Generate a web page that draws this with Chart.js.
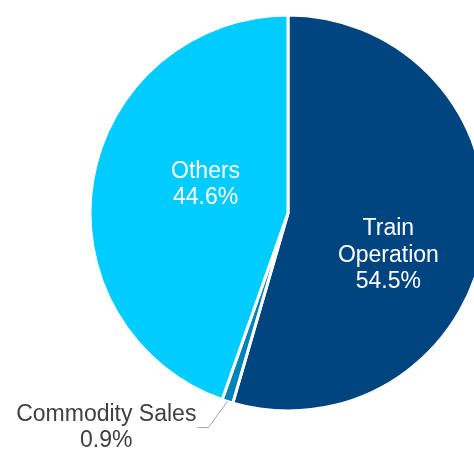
<!DOCTYPE html>
<html>
<head>
<meta charset="utf-8">
<script src="https://cdn.jsdelivr.net/npm/chart.js@4/dist/chart.umd.min.js"></script>
<style>
  html, body { margin: 0; padding: 0; background: #ffffff; overflow: hidden; width: 474px; height: 450px; }
  #wrap { position: absolute; left: 0; top: 0; width: 576px; height: 450px; }
</style>
</head>
<body>
<div id="wrap"><canvas id="c" width="576" height="450"></canvas></div>
<script>
// ---- data ----
const categories = ["Train Operation", "Commodity Sales", "Others"];
const shares = [54.5, 0.9, 44.6];
const labelLines = [["Train", "Operation"], ["Commodity Sales"], ["Others"]];
const sliceColors = ["#00457f", "#0082ba", "#00ccff"];

// label placement (polar, relative to pie centre): radius fraction, screen angle in degrees
const labelPolar = [
  { r: 0.55, a: 22.8, color: "#ffffff", inside: true },
  { r: 0, a: 0, color: "#404040", inside: false },
  { r: 0.44, a: 198.9, color: "#ffffff", inside: true }
];

const FONT = '23px "Liberation Sans", Arial, sans-serif';
const LINE_H = 26.5;

const labelPlugin = {
  id: 'sliceLabels',
  afterDatasetsDraw(chart) {
    const ctx = chart.ctx;
    const meta = chart.getDatasetMeta(0);
    ctx.save();
    ctx.font = FONT;
    ctx.textBaseline = 'middle';
    ctx.textAlign = 'center';
    meta.data.forEach((arc, i) => {
      const p = arc.getProps(['x', 'y', 'startAngle', 'endAngle', 'outerRadius']);
      const lines = labelLines[i].concat([shares[i].toFixed(1) + '%']);
      const cfg = labelPolar[i];
      if (cfg.inside) {
        const ang = cfg.a * Math.PI / 180;
        const cx = p.x + Math.cos(ang) * cfg.r * p.outerRadius;
        const cy = p.y + Math.sin(ang) * cfg.r * p.outerRadius;
        ctx.fillStyle = cfg.color;
        const top = cy - (lines.length - 1) * LINE_H / 2;
        lines.forEach((t, k) => ctx.fillText(t, cx, top + k * LINE_H));
      } else {
        // leader line from the slice's outer edge at its mid angle
        const mid = (p.startAngle + p.endAngle) / 2;
        const x0 = p.x + Math.cos(mid) * p.outerRadius;
        const y0 = p.y + Math.sin(mid) * p.outerRadius;
        const x1 = x0 - 19, y1 = y0 + 26;
        const x2 = x1 - 11;
        ctx.strokeStyle = '#a6a6a6';
        ctx.lineWidth = 1;
        ctx.beginPath();
        ctx.moveTo(x0, y0);
        ctx.lineTo(x1, y1);
        ctx.lineTo(x2, y1);
        ctx.stroke();
        const w = Math.max(...lines.map(t => ctx.measureText(t).width));
        const cx = x2 - 1 - w / 2;
        const top = y1 - (lines.length - 1) * LINE_H / 2;
        ctx.fillStyle = cfg.color;
        lines.forEach((t, k) => ctx.fillText(t, cx, top + k * LINE_H));
      }
    });
    ctx.restore();
  }
};

new Chart(document.getElementById('c'), {
  type: 'pie',
  data: {
    labels: categories,
    datasets: [{
      data: shares,
      backgroundColor: sliceColors,
      borderColor: '#ffffff',
      borderWidth: 3
    }]
  },
  options: {
    responsive: false,
    devicePixelRatio: 1,
    animation: false,
    rotation: 0,
    layout: { padding: { left: 88.5, right: 88.5, top: 13.5, bottom: 37.5 } },
    plugins: {
      legend: { display: false },
      tooltip: { enabled: false }
    }
  },
  plugins: [labelPlugin]
});
</script>
</body>
</html>
